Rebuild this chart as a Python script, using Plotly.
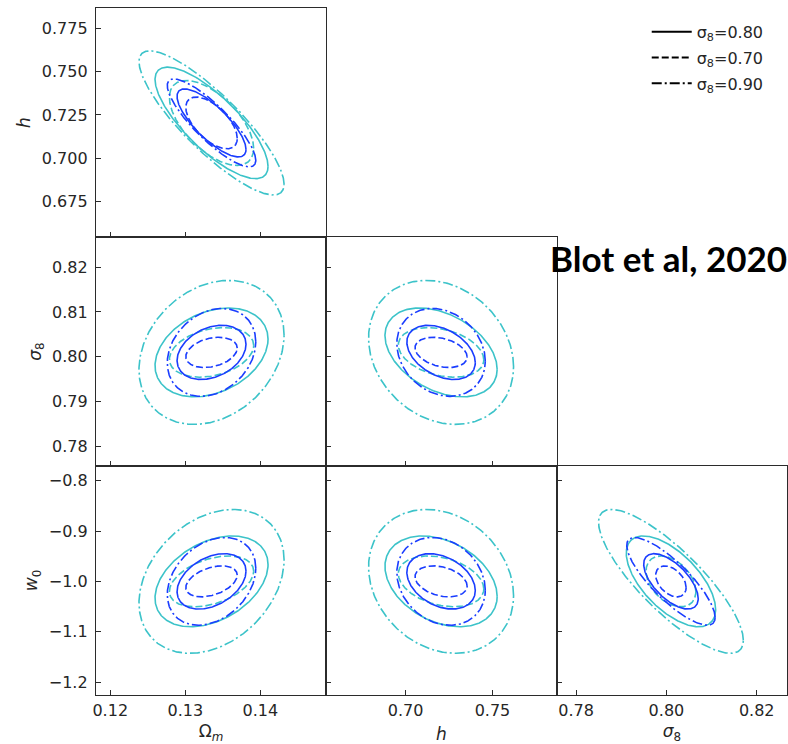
import numpy as np
import plotly.graph_objects as go

# ---------------- data ----------------
param_names = ["Om", "h", "s8", "w0"]
param_titles = ["Ω<sub><i>m</i></sub>", "<i>h</i>", "<i>σ</i><sub>8</sub>", "<i>w</i><sub>0</sub>"]
fiducial = [0.1335, 0.7204, 0.8010, -1.0]

series_labels = ["σ<sub>8</sub>=0.80", "σ<sub>8</sub>=0.70", "σ<sub>8</sub>=0.90"]
# marginal 1-sigma errors for each parameter (Om, h, s8, w0)
sigma_s080 = [0.00303, 0.0130, 0.00398, 0.0363]
sigma_s070 = [0.00226, 0.0099, 0.00222, 0.0203]
sigma_s090 = [0.00389, 0.0168, 0.00645, 0.0575]

# parameter pairs (x index, y index) for the six panels
pairs = [(0, 1), (0, 2), (1, 2), (0, 3), (1, 3), (2, 3)]
rho_s080 = [-0.78, 0.30, -0.38, 0.37, -0.33, -0.62]
rho_s070 = [-0.60, 0.28, -0.30, 0.40, -0.30, -0.40]
rho_s090 = [-0.85, 0.24, -0.20, 0.30, -0.20, -0.82]

# contour levels (2-parameter delta chi^2 for 68% and 95%)
delta_chi2 = [2.30, 6.18]

# axis tick values
ticks_Om = [0.12, 0.13, 0.14]
ticks_h_y = [0.675, 0.700, 0.725, 0.750, 0.775]
ticks_h_x = [0.70, 0.75]
ticks_s8 = [0.78, 0.79, 0.80, 0.81, 0.82]
ticks_s8_x = [0.78, 0.80, 0.82]
ticks_w0 = [-0.8, -0.9, -1.0, -1.1, -1.2]

# ---------------- styling ----------------
axis_range = {0: [0.1181, 0.1488], 1: [0.6543, 0.7870], 2: [0.7757, 0.8267], 3: [-1.2258, -0.7708]}
level_colors = ["#1a3dff", "#3cc3c9"]
dash_styles = ["solid", "7px,3px", "10px,3px,2px,3px"]
sigmas = [sigma_s080, sigma_s070, sigma_s090]
rhos = [rho_s080, rho_s070, rho_s090]

# panel layout: (row, col) for each pair
panel_pos = [(0, 0), (1, 0), (1, 1), (2, 0), (2, 1), (2, 2)]
col_dom = [[0.0, 0.3333], [0.3333, 0.6667], [0.6667, 1.0]]
row_dom = [[0.6667, 1.0], [0.3333, 0.6667], [0.0, 0.3333]]

fig = go.Figure()
t = np.linspace(0, 2 * np.pi, 361)

for p, (ix, iy) in enumerate(pairs):
    xa = "x" if p == 0 else f"x{p+1}"
    ya = "y" if p == 0 else f"y{p+1}"
    for lev in [1, 0]:
        for s in [2, 0, 1]:
            sx = sigmas[s][ix]
            sy = sigmas[s][iy]
            r = rhos[s][p]
            k = np.sqrt(delta_chi2[lev])
            x = fiducial[ix] + k * sx * np.cos(t)
            y = fiducial[iy] + k * sy * (r * np.cos(t) + np.sqrt(1 - r * r) * np.sin(t))
            fig.add_trace(go.Scatter(
                x=x, y=y, mode="lines", xaxis=xa, yaxis=ya,
                line=dict(color=level_colors[lev], width=1.6, dash=dash_styles[s]),
                showlegend=False, hoverinfo="skip"))

# legend entries
for s in range(3):
    fig.add_trace(go.Scatter(
        x=[None], y=[None], mode="lines", name=series_labels[s],
        line=dict(color="black", width=2, dash=dash_styles[s]),
        legendgroup=f"g{s}", showlegend=True))

tick_font = dict(family="DejaVu Sans", size=16, color="#262626")
common = dict(showline=True, linecolor="#2b2b2b", linewidth=1.3, mirror=True,
              ticks="inside", ticklen=5, tickwidth=1, tickcolor="#2b2b2b",
              showgrid=False, zeroline=False, tickfont=tick_font)

xticks = {0: (ticks_Om, ".2f"), 1: (ticks_h_x, ".2f"), 2: (ticks_s8_x, ".2f")}
yticks = {1: (ticks_h_y, ".3f"), 2: (ticks_s8, ".2f"), 3: (ticks_w0, ".1f")}

layout = {}
for p, (ix, iy) in enumerate(pairs):
    row, col = panel_pos[p]
    xs = "xaxis" if p == 0 else f"xaxis{p+1}"
    ys = "yaxis" if p == 0 else f"yaxis{p+1}"
    xa = "x" if p == 0 else f"x{p+1}"
    ya = "y" if p == 0 else f"y{p+1}"
    show_x = row == 2
    show_y = col == 0
    xd = dict(common, domain=col_dom[col], anchor=ya, range=axis_range[ix],
              tickvals=xticks[ix][0], tickformat=xticks[ix][1], showticklabels=show_x,
              ticklabelstandoff=1)
    if show_x:
        xd["title"] = dict(text=param_titles[ix], font=dict(family="DejaVu Sans", size=17, color="#262626"), standoff=8)
    yd = dict(common, domain=row_dom[row], anchor=xa, range=axis_range[iy],
              tickvals=yticks[iy][0], tickformat=yticks[iy][1], showticklabels=show_y,
              ticklabelstandoff=4)
    if show_y:
        yd["title"] = dict(text=param_titles[iy], font=dict(family="DejaVu Sans", size=17, color="#262626"), standoff=6)
    layout[xs] = xd
    layout[ys] = yd

fig.update_layout(**layout)
fig.update_layout(
    width=788, height=744,
    margin=dict(l=96, r=1, t=8, b=49),
    plot_bgcolor="white", paper_bgcolor="white",
    font=dict(family="DejaVu Sans", size=16, color="#262626"),
    legend=dict(x=0.797, y=0.99, xanchor="left", yanchor="top",
                font=dict(family="DejaVu Sans", size=16, color="#262626"),
                bgcolor="rgba(0,0,0,0)", tracegroupgap=2, itemwidth=40),
    annotations=[dict(text="<b>Blot et al, 2020</b>", x=1.003, y=0.636, xref="paper", yref="paper",
                      xanchor="right", yanchor="middle", showarrow=False,
                      font=dict(family="Lato", size=35, color="black"))],
)

fig.write_html("out.html")
